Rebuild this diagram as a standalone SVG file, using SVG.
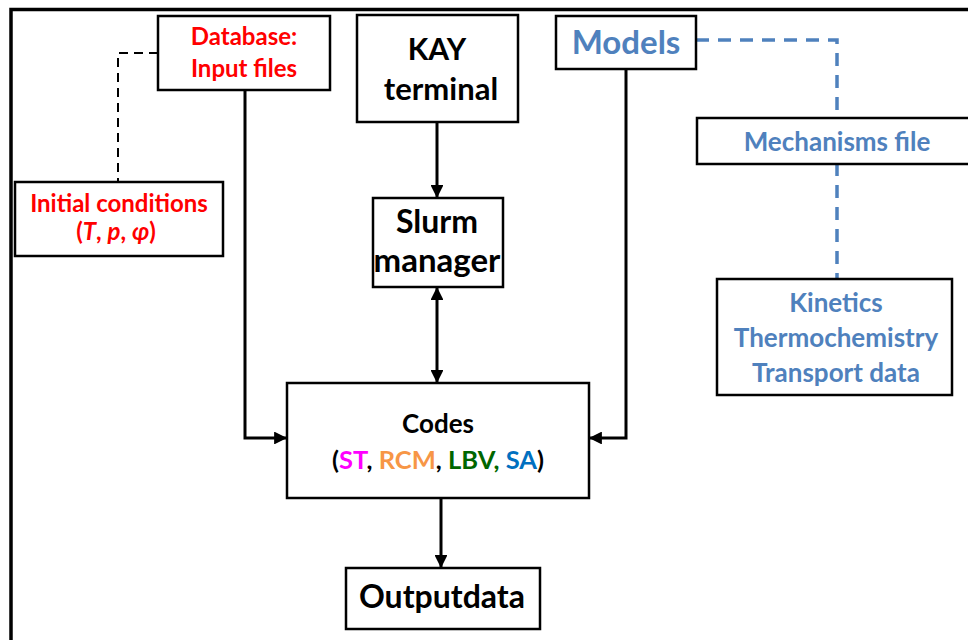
<svg xmlns="http://www.w3.org/2000/svg" width="968" height="640" viewBox="0 0 968 640">
<style>
.box{fill:#fff;stroke:#000;stroke-width:2.5}
.t{font-family:Lato,"Open Sans","Liberation Sans",sans-serif;font-weight:bold;text-anchor:middle}
.red{fill:#ff0000}
.blue{fill:#4f81bd}
.blk{fill:#000}
.c{fill:none;stroke:#000;stroke-width:3}
</style>
<defs>
<marker id="ah" viewBox="0 0 10 10" refX="10" refY="5" markerWidth="4.3" markerHeight="4.3" orient="auto-start-reverse" markerUnits="strokeWidth">
<path d="M0,0 L10,5 L0,10 z" fill="#000"/>
</marker>
</defs>
<rect x="0" y="0" width="968" height="640" fill="#fff"/>
<path d="M11,640 V9.5 H968" fill="none" stroke="#000" stroke-width="3.5"/>
<g id="connectors">
<path d="M158,53 H118 V182" fill="none" stroke="#000" stroke-width="2" stroke-dasharray="9,6"/>
<path d="M696,40 H837 V279" fill="none" stroke="#4f81bd" stroke-width="3.5" stroke-dasharray="13,9"/>
<path class="c" d="M245,90 V438 H287" marker-end="url(#ah)"/>
<path class="c" d="M626,69 V438 H589" marker-end="url(#ah)"/>
<path class="c" d="M437,122 V198" marker-end="url(#ah)"/>
<path class="c" d="M437,287 V383" marker-start="url(#ah)" marker-end="url(#ah)"/>
<path class="c" d="M441,498 V568" marker-end="url(#ah)"/>
</g>
<g id="database">
<rect class="box" x="158" y="16" width="172" height="74"/>
<text class="t red" x="244" y="45" font-size="24">Database:</text>
<text class="t red" x="244" y="77" font-size="24">Input files</text>
</g>
<g id="initial">
<rect class="box" x="15" y="182" width="208" height="74"/>
<text class="t red" x="119" y="212" font-size="24">Initial conditions</text>
<text class="t red" x="116" y="240" font-size="24">(<tspan font-style="italic">T</tspan>, <tspan font-style="italic">p</tspan>, <tspan font-style="italic">φ</tspan>)</text>
</g>
<g id="kay">
<rect class="box" x="357" y="15" width="161" height="107"/>
<text class="t blk" x="437" y="60" font-size="30">KAY</text>
<text class="t blk" x="441" y="100" font-size="31">terminal</text>
</g>
<g id="slurm">
<rect class="box" x="373" y="198" width="130" height="89"/>
<text class="t blk" x="437" y="233" font-size="32">Slurm</text>
<text class="t blk" x="437" y="272" font-size="33">manager</text>
</g>
<g id="models">
<rect class="box" x="556" y="16" width="140" height="53"/>
<text class="t blue" x="626" y="54" font-size="33">Models</text>
</g>
<g id="mechanisms">
<rect class="box" x="697" y="118" width="290" height="46"/>
<text class="t blue" x="837" y="151" font-size="26">Mechanisms file</text>
</g>
<g id="kinetics">
<rect class="box" x="717" y="279" width="235" height="116"/>
<text class="t blue" x="836" y="312" font-size="26">Kinetics</text>
<text class="t blue" x="836" y="347" font-size="26">Thermochemistry</text>
<text class="t blue" x="836" y="382" font-size="26">Transport data</text>
</g>
<g id="codes">
<rect class="box" x="287" y="383" width="302" height="115"/>
<text class="t blk" x="438" y="433" font-size="26">Codes</text>
<text class="t blk" x="438" y="469" font-size="25.5">(<tspan fill="#ff00ff">ST</tspan>, <tspan fill="#f79646">RCM</tspan>, <tspan fill="#006600">LBV,</tspan> <tspan fill="#0070c0">SA</tspan>)</text>
</g>
<g id="output">
<rect class="box" x="346" y="568" width="194" height="61"/>
<text class="t blk" x="442" y="608" font-size="32">Outputdata</text>
</g>
</svg>
